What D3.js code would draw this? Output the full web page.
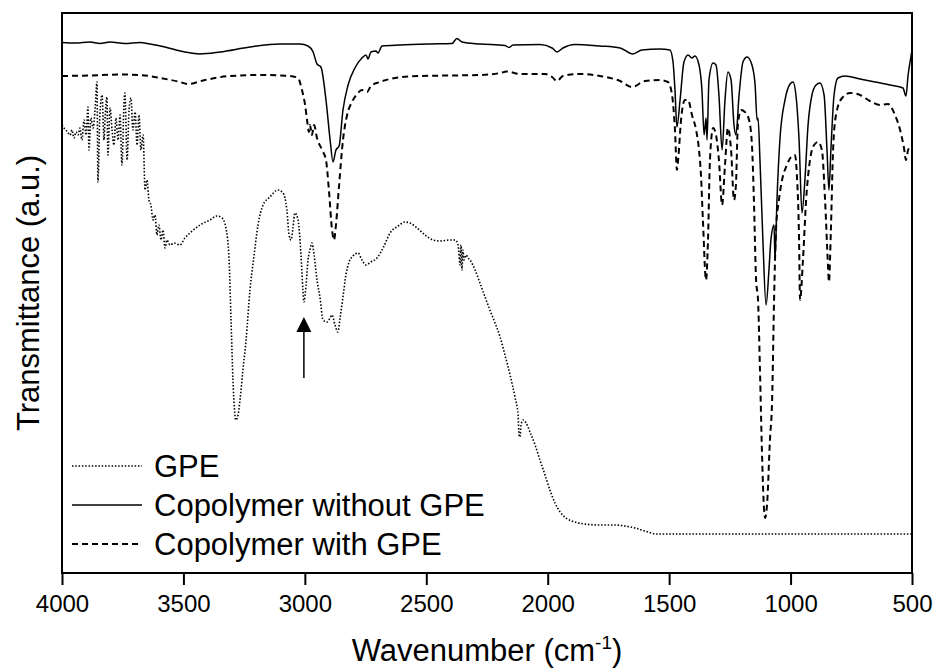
<!DOCTYPE html>
<html>
<head>
<meta charset="utf-8">
<script src="https://cdn.jsdelivr.net/npm/d3@7"></script>
<style>
  body { margin: 0; background: #fff; }
  svg { display: block; font-family: "Liberation Sans", Arial, sans-serif; }
</style>
</head>
<body>
<script>
// FTIR spectra, [wavenumber (cm-1), transmittance (a.u.)]
const gpe = [
  [4000, 89.6], [3992, 89.0], [3984, 88.6], [3975, 88.0], [3967, 87.6], [3959, 88.6], [3951, 87.0],
  [3942, 88.2], [3934, 87.6], [3926, 89.0], [3918, 86.6], [3909, 90.6], [3901, 87.6], [3893, 93.2],
  [3889, 84.6], [3881, 91.0], [3872, 89.0], [3864, 92.6], [3856, 98.2], [3852, 78.2], [3844, 91.6],
  [3835, 95.6], [3827, 86.6], [3823, 90.6], [3815, 95.2], [3811, 83.6], [3802, 93.0], [3794, 88.6],
  [3786, 85.6], [3778, 91.0], [3769, 86.6], [3761, 91.6], [3753, 81.6], [3745, 93.6], [3741, 96.0],
  [3732, 82.6], [3724, 92.6], [3716, 95.0], [3708, 88.6], [3699, 92.2], [3691, 85.6], [3683, 91.6],
  [3675, 84.6], [3666, 87.6], [3658, 76.6], [3650, 78.6], [3642, 74.6], [3634, 73.6], [3625, 70.6],
  [3617, 71.6], [3609, 67.6], [3601, 69.6], [3592, 66.6], [3584, 68.6], [3576, 65.0], [3568, 66.6],
  [3555, 65.6], [3539, 66.0], [3514, 65.6], [3494, 67.0], [3473, 68.0], [3432, 69.6], [3391, 70.6],
  [3362, 71.4], [3341, 71.0], [3325, 69.0], [3312, 62.6], [3304, 50.6], [3296, 38.6], [3284, 30.6],
  [3275, 31.6], [3267, 34.6], [3255, 40.6], [3242, 46.6], [3226, 56.6], [3209, 63.6], [3193, 69.6],
  [3172, 73.6], [3144, 75.2], [3111, 76.6], [3090, 76.0], [3074, 72.6], [3065, 67.6], [3057, 66.6],
  [3049, 69.0], [3041, 72.0], [3028, 70.6], [3016, 63.6], [3008, 56.6], [3004, 54.2], [2995, 57.6],
  [2987, 62.6], [2979, 64.6], [2971, 66.0], [2962, 63.6], [2950, 58.6], [2938, 55.2], [2925, 50.6],
  [2909, 50.2], [2896, 51.0], [2888, 51.6], [2876, 49.6], [2864, 48.2], [2855, 51.0], [2843, 55.2],
  [2831, 59.6], [2818, 62.2], [2802, 63.4], [2781, 64.0], [2765, 62.6], [2748, 61.6], [2728, 62.2],
  [2703, 63.0], [2678, 65.0], [2649, 68.0], [2616, 69.4], [2588, 70.2], [2567, 70.0], [2538, 69.0],
  [2505, 67.6], [2472, 66.6], [2444, 66.4], [2402, 66.6], [2382, 66.6], [2369, 65.6], [2361, 61.6],
  [2357, 65.6], [2353, 60.6], [2349, 64.6], [2345, 62.6], [2336, 63.6], [2328, 63.0], [2320, 62.6],
  [2299, 60.6], [2279, 58.0], [2258, 55.2], [2238, 52.6], [2217, 50.0], [2196, 47.2], [2176, 43.6],
  [2155, 39.6], [2135, 35.2], [2122, 31.6], [2118, 27.6], [2114, 27.2], [2110, 29.6], [2102, 30.6],
  [2089, 30.0], [2073, 28.2], [2052, 25.6], [2032, 22.6], [2011, 19.6], [1991, 16.6], [1970, 14.0],
  [1949, 12.2], [1925, 11.0], [1888, 10.2], [1847, 9.8], [1785, 9.6], [1723, 9.6], [1682, 9.4],
  [1641, 9.0], [1600, 8.4], [1550, 7.8], [1373, 7.8], [961, 7.8], [500, 7.8]
];

const copolymer = [
  [4000, 106.1], [3946, 106.0], [3885, 106.2], [3844, 105.9], [3802, 106.2], [3741, 105.9], [3679, 106.1],
  [3638, 105.8], [3576, 105.2], [3494, 104.2], [3432, 103.8], [3349, 104.2], [3226, 105.2], [3102, 105.8],
  [3020, 105.8], [2987, 105.4], [2966, 104.2], [2950, 101.8], [2934, 101.2], [2913, 94.6], [2896, 86.6],
  [2884, 82.2], [2872, 84.6], [2859, 85.4], [2843, 92.6], [2822, 97.6], [2794, 101.0], [2765, 103.0],
  [2748, 103.6], [2740, 102.8], [2728, 104.2], [2707, 104.4], [2699, 104.0], [2682, 105.4], [2608, 105.6],
  [2485, 105.8], [2394, 105.9], [2374, 106.9], [2353, 106.2], [2279, 105.8], [2176, 105.5], [2159, 105.1],
  [2143, 105.6], [2032, 105.7], [1982, 105.0], [1962, 104.2], [1937, 105.0], [1888, 105.7], [1785, 105.4],
  [1702, 105.0], [1649, 103.8], [1612, 104.6], [1538, 104.8], [1497, 104.6], [1484, 102.2], [1476, 96.6],
  [1468, 89.2], [1455, 94.6], [1439, 102.2], [1422, 103.6], [1406, 103.0], [1394, 103.4], [1377, 101.6],
  [1365, 96.6], [1356, 87.6], [1348, 91.0], [1344, 86.6], [1336, 98.6], [1319, 102.0], [1307, 101.6],
  [1295, 95.6], [1282, 84.6], [1270, 94.6], [1258, 100.2], [1245, 98.6], [1233, 89.6], [1225, 87.6],
  [1212, 95.6], [1196, 102.2], [1179, 103.2], [1159, 101.6], [1146, 97.6], [1138, 90.6], [1134, 91.0],
  [1126, 82.6], [1114, 66.6], [1101, 53.6], [1089, 60.6], [1081, 66.6], [1068, 69.6], [1064, 62.6],
  [1056, 74.6], [1044, 86.6], [1023, 94.6], [1002, 97.8], [990, 98.2], [978, 95.6], [965, 86.6],
  [953, 72.0], [941, 78.6], [928, 89.6], [912, 95.6], [895, 97.6], [879, 98.0], [862, 95.6],
  [850, 84.6], [842, 76.6], [834, 84.6], [821, 95.6], [805, 99.0], [776, 99.4], [714, 98.8],
  [652, 98.2], [591, 97.6], [537, 97.0], [525, 95.4], [516, 99.6], [508, 102.2], [500, 104.6]
];

const copolymerGpe = [
  [4000, 99.4], [3885, 99.5], [3761, 99.7], [3679, 99.6], [3596, 99.0], [3514, 98.2], [3481, 97.8],
  [3411, 98.6], [3308, 99.4], [3185, 99.6], [3061, 99.4], [3028, 99.0], [3012, 96.6], [2999, 93.6],
  [2991, 90.6], [2983, 88.2], [2979, 89.6], [2971, 87.6], [2962, 89.6], [2950, 87.0], [2929, 84.6],
  [2913, 82.6], [2901, 76.6], [2888, 68.6], [2880, 66.6], [2872, 69.6], [2859, 77.6], [2843, 86.6],
  [2826, 91.6], [2806, 94.2], [2785, 95.8], [2765, 96.6], [2744, 96.2], [2728, 97.4], [2691, 98.2],
  [2629, 99.0], [2526, 99.4], [2402, 99.5], [2279, 99.6], [2196, 100.0], [2168, 100.3], [2114, 99.8],
  [2011, 99.8], [1982, 99.2], [1962, 98.4], [1937, 99.4], [1867, 99.8], [1785, 99.4], [1702, 98.4],
  [1653, 97.2], [1599, 98.4], [1538, 98.6], [1505, 98.2], [1488, 95.6], [1476, 88.6], [1468, 80.6],
  [1463, 82.6], [1451, 90.6], [1435, 94.6], [1422, 94.6], [1406, 91.6], [1389, 88.6], [1377, 84.6],
  [1369, 79.6], [1361, 70.6], [1348, 58.6], [1340, 66.6], [1332, 82.6], [1319, 89.0], [1307, 87.6],
  [1295, 82.6], [1282, 73.6], [1270, 81.6], [1258, 89.0], [1245, 84.6], [1233, 74.6], [1225, 77.6],
  [1217, 89.6], [1204, 92.6], [1188, 92.2], [1171, 90.6], [1159, 85.6], [1151, 74.6], [1142, 58.6],
  [1134, 54.6], [1126, 40.6], [1118, 24.6], [1109, 12.6], [1105, 11.0], [1097, 13.6], [1085, 26.6],
  [1076, 34.6], [1068, 54.6], [1060, 68.6], [1048, 74.6], [1035, 78.6], [1015, 81.6], [998, 83.2],
  [982, 83.6], [974, 79.6], [965, 66.6], [961, 54.6], [949, 62.6], [936, 74.6], [920, 82.6],
  [903, 85.6], [887, 86.2], [871, 84.6], [858, 74.6], [846, 61.6], [842, 58.2], [834, 68.6],
  [825, 84.6], [813, 91.6], [788, 95.0], [755, 96.0], [714, 95.6], [673, 94.4], [632, 93.6],
  [599, 93.8], [570, 91.6], [549, 88.6], [533, 85.0], [525, 82.6], [516, 84.6], [500, 85.6]
];

const xTicks = [4000, 3500, 3000, 2500, 2000, 1500, 1000, 500];

// arrow marking the band at ~3000 cm-1
const arrowWn = 3004;
const arrowFrom = 39.0;
const arrowTo = 51.2;

const series = [
  { name: "GPE", data: gpe, dash: "1.5,1.8", width: 1.6 },
  { name: "Copolymer without GPE", data: copolymer, dash: null, width: 1.5 },
  { name: "Copolymer with GPE", data: copolymerGpe, dash: "6,4", width: 2 }
];

const W = 935, H = 672;
const margin = { top: 13, right: 23, bottom: 99, left: 62 };
const width = W - margin.left - margin.right;
const height = H - margin.top - margin.bottom;

const svg = d3.select("body").append("svg")
  .attr("width", W)
  .attr("height", H);

const g = svg.append("g")
  .attr("transform", `translate(${margin.left},${margin.top})`);

const x = d3.scaleLinear().domain([4000, 500]).range([0, width]);
const y = d3.scaleLinear().domain([0, 112]).range([height, 0]);

const line = d3.line()
  .x(d => x(d[0]))
  .y(d => y(d[1]))
  .curve(d3.curveMonotoneX);

// spectra
series.forEach(s => {
  g.append("path")
    .datum(s.data)
    .attr("fill", "none")
    .attr("stroke", "#000")
    .attr("stroke-width", s.width)
    .attr("stroke-dasharray", s.dash)
    .attr("d", line);
});

// arrow
g.append("line")
  .attr("x1", x(arrowWn)).attr("x2", x(arrowWn))
  .attr("y1", y(arrowFrom)).attr("y2", y(arrowTo) + 12)
  .attr("stroke", "#000")
  .attr("stroke-width", 1.5);
g.append("path")
  .attr("d", `M${x(arrowWn)},${y(arrowTo)} L${x(arrowWn) - 7.5},${y(arrowTo) + 15} L${x(arrowWn) + 7.5},${y(arrowTo) + 15} Z`)
  .attr("fill", "#000");

// frame
g.append("rect")
  .attr("width", width)
  .attr("height", height)
  .attr("fill", "none")
  .attr("stroke", "#000")
  .attr("stroke-width", 2);

// x axis
const xAxis = g.append("g")
  .attr("transform", `translate(0,${height})`)
  .call(d3.axisBottom(x).tickValues(xTicks).tickSize(12).tickSizeOuter(0).tickFormat(d3.format("d")));
xAxis.select(".domain").remove();
xAxis.selectAll(".tick line").attr("stroke-width", 2);
xAxis.selectAll(".tick text")
  .attr("y", 39)
  .attr("dy", 0)
  .attr("fill", "#000")
  .style("font-size", "24px")
  .style("font-family", "'Liberation Sans', Arial, sans-serif");

// axis titles
const xTitle = svg.append("text")
  .attr("x", margin.left + width / 2)
  .attr("y", 661)
  .attr("text-anchor", "middle")
  .style("font-size", "31px");
xTitle.append("tspan").text("Wavenumber (cm");
xTitle.append("tspan").text("-1").attr("dy", -12).style("font-size", "19px");
xTitle.append("tspan").text(")").attr("dy", 12);

svg.append("text")
  .attr("transform", `translate(39,${margin.top + height / 2}) rotate(-90)`)
  .attr("text-anchor", "middle")
  .style("font-size", "31px")
  .text("Transmittance (a.u.)");

// legend
const legend = svg.append("g").attr("transform", "translate(72,466)");
series.forEach((s, i) => {
  const row = legend.append("g").attr("transform", `translate(0,${i * 39})`);
  row.append("line")
    .attr("x1", 0).attr("x2", 70)
    .attr("stroke", "#000")
    .attr("stroke-width", s.width)
    .attr("stroke-dasharray", s.dash);
  row.append("text")
    .attr("x", 82)
    .attr("y", 11)
    .style("font-size", "31px")
    .text(s.name);
});
</script>
</body>
</html>
